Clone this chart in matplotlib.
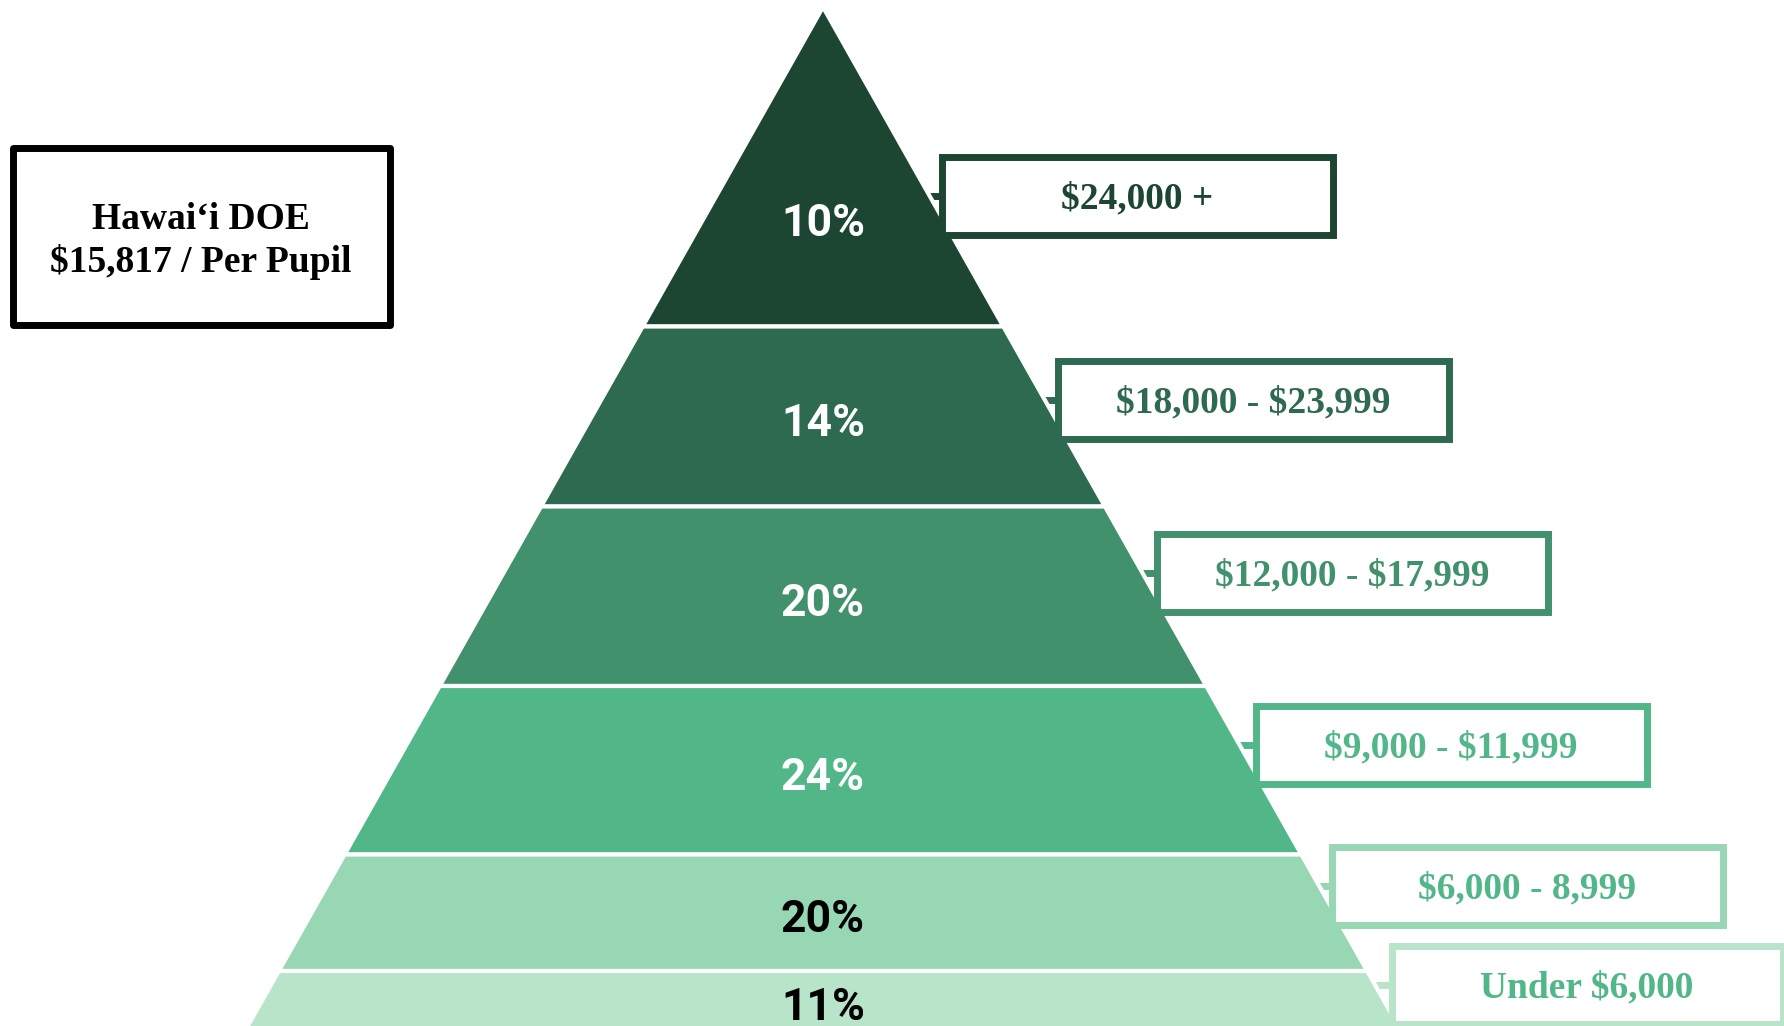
import matplotlib.pyplot as plt
from matplotlib.patches import Polygon, Rectangle

# share of schools in each per-pupil spending tier (top of pyramid first)
shares = [10, 14, 20, 24, 20, 11]
ranges = ['$24,000 +', '$18,000 - $23,999', '$12,000 - $17,999',
          '$9,000 - $11,999', '$6,000 - 8,999', 'Under $6,000']
band_colors = ['#1c4532', '#2d6a4f', '#40916c', '#52b788', '#97d7b3', '#b8e5c9']
text_colors = ['#1c4532', '#2d6a4f', '#40916c', '#52b788', '#52b788', '#52b788']
pct_colors = ['white', 'white', 'white', 'white', 'black', 'black']
doe_lines = ['Hawai\u2018i DOE', '$15,817 / Per Pupil']

# layout (pixel space of the 1784x1026 canvas)
W, H = 1784, 1026
apex_x, apex_y, slope = 823, 7, 0.5645
band_edges = [7, 326.5, 506.5, 686, 854.5, 971, 1060]
pct_y = [221, 420, 600, 774, 916, 1004]
box_left = [941.5, 1057.5, 1156.5, 1255.5, 1331.5, 1391.5]
box_top = [156.5, 360.5, 533.5, 705.5, 846.5, 945.5]
box_w, box_h = 391, 78
lw_box = 5.0

fig = plt.figure(figsize=(W / 100, H / 100), dpi=100)
ax = fig.add_axes([0, 0, 1, 1])
ax.set_xlim(0, W)
ax.set_ylim(H, 0)
ax.axis('off')

def half_width(y):
    return slope * (y - apex_y)

for i in range(len(shares)):
    y0, y1 = band_edges[i], band_edges[i + 1]
    if i == 0:
        pts = [(apex_x, y0), (apex_x + half_width(y1), y1), (apex_x - half_width(y1), y1)]
    else:
        pts = [(apex_x - half_width(y0), y0), (apex_x + half_width(y0), y0),
               (apex_x + half_width(y1), y1), (apex_x - half_width(y1), y1)]
    ax.add_patch(Polygon(pts, closed=True, facecolor=band_colors[i],
                         edgecolor='white', linewidth=3.0, joinstyle='round', zorder=2))
    ax.text(apex_x, pct_y[i] + 15.5, f'{shares[i]}%', color=pct_colors[i],
            fontsize=32, fontweight='bold', family='Roboto',
            ha='center', va='baseline', zorder=5, parse_math=False)

    # label box and its connector to the pyramid edge
    bx, by = box_left[i], box_top[i]
    cy = by + box_h / 2
    ax.plot([apex_x + half_width(cy) - 6, bx], [cy, cy], color=band_colors[i],
            linewidth=lw_box, solid_capstyle='butt', zorder=1)
    ax.add_patch(Rectangle((bx, by), box_w, box_h, facecolor='white',
                           edgecolor=band_colors[i], linewidth=lw_box,
                           joinstyle='miter', zorder=3))
    ax.text(bx + box_w / 2, cy + 13, ranges[i], color=text_colors[i],
            fontsize=27, fontweight='bold', family='Liberation Serif',
            ha='center', va='baseline', zorder=4, parse_math=False)

# DOE reference box
ax.add_patch(Rectangle((12.5, 147.5), 377, 177, facecolor='white',
                       edgecolor='black', linewidth=5.0, joinstyle='round', zorder=3))
for line, base in zip(doe_lines, [229, 272]):
    ax.text(201, base, line, color='black', fontsize=27, fontweight='bold',
            family='Liberation Serif', ha='center', va='baseline', zorder=4,
            parse_math=False)

fig.savefig('out.png', dpi=100)
